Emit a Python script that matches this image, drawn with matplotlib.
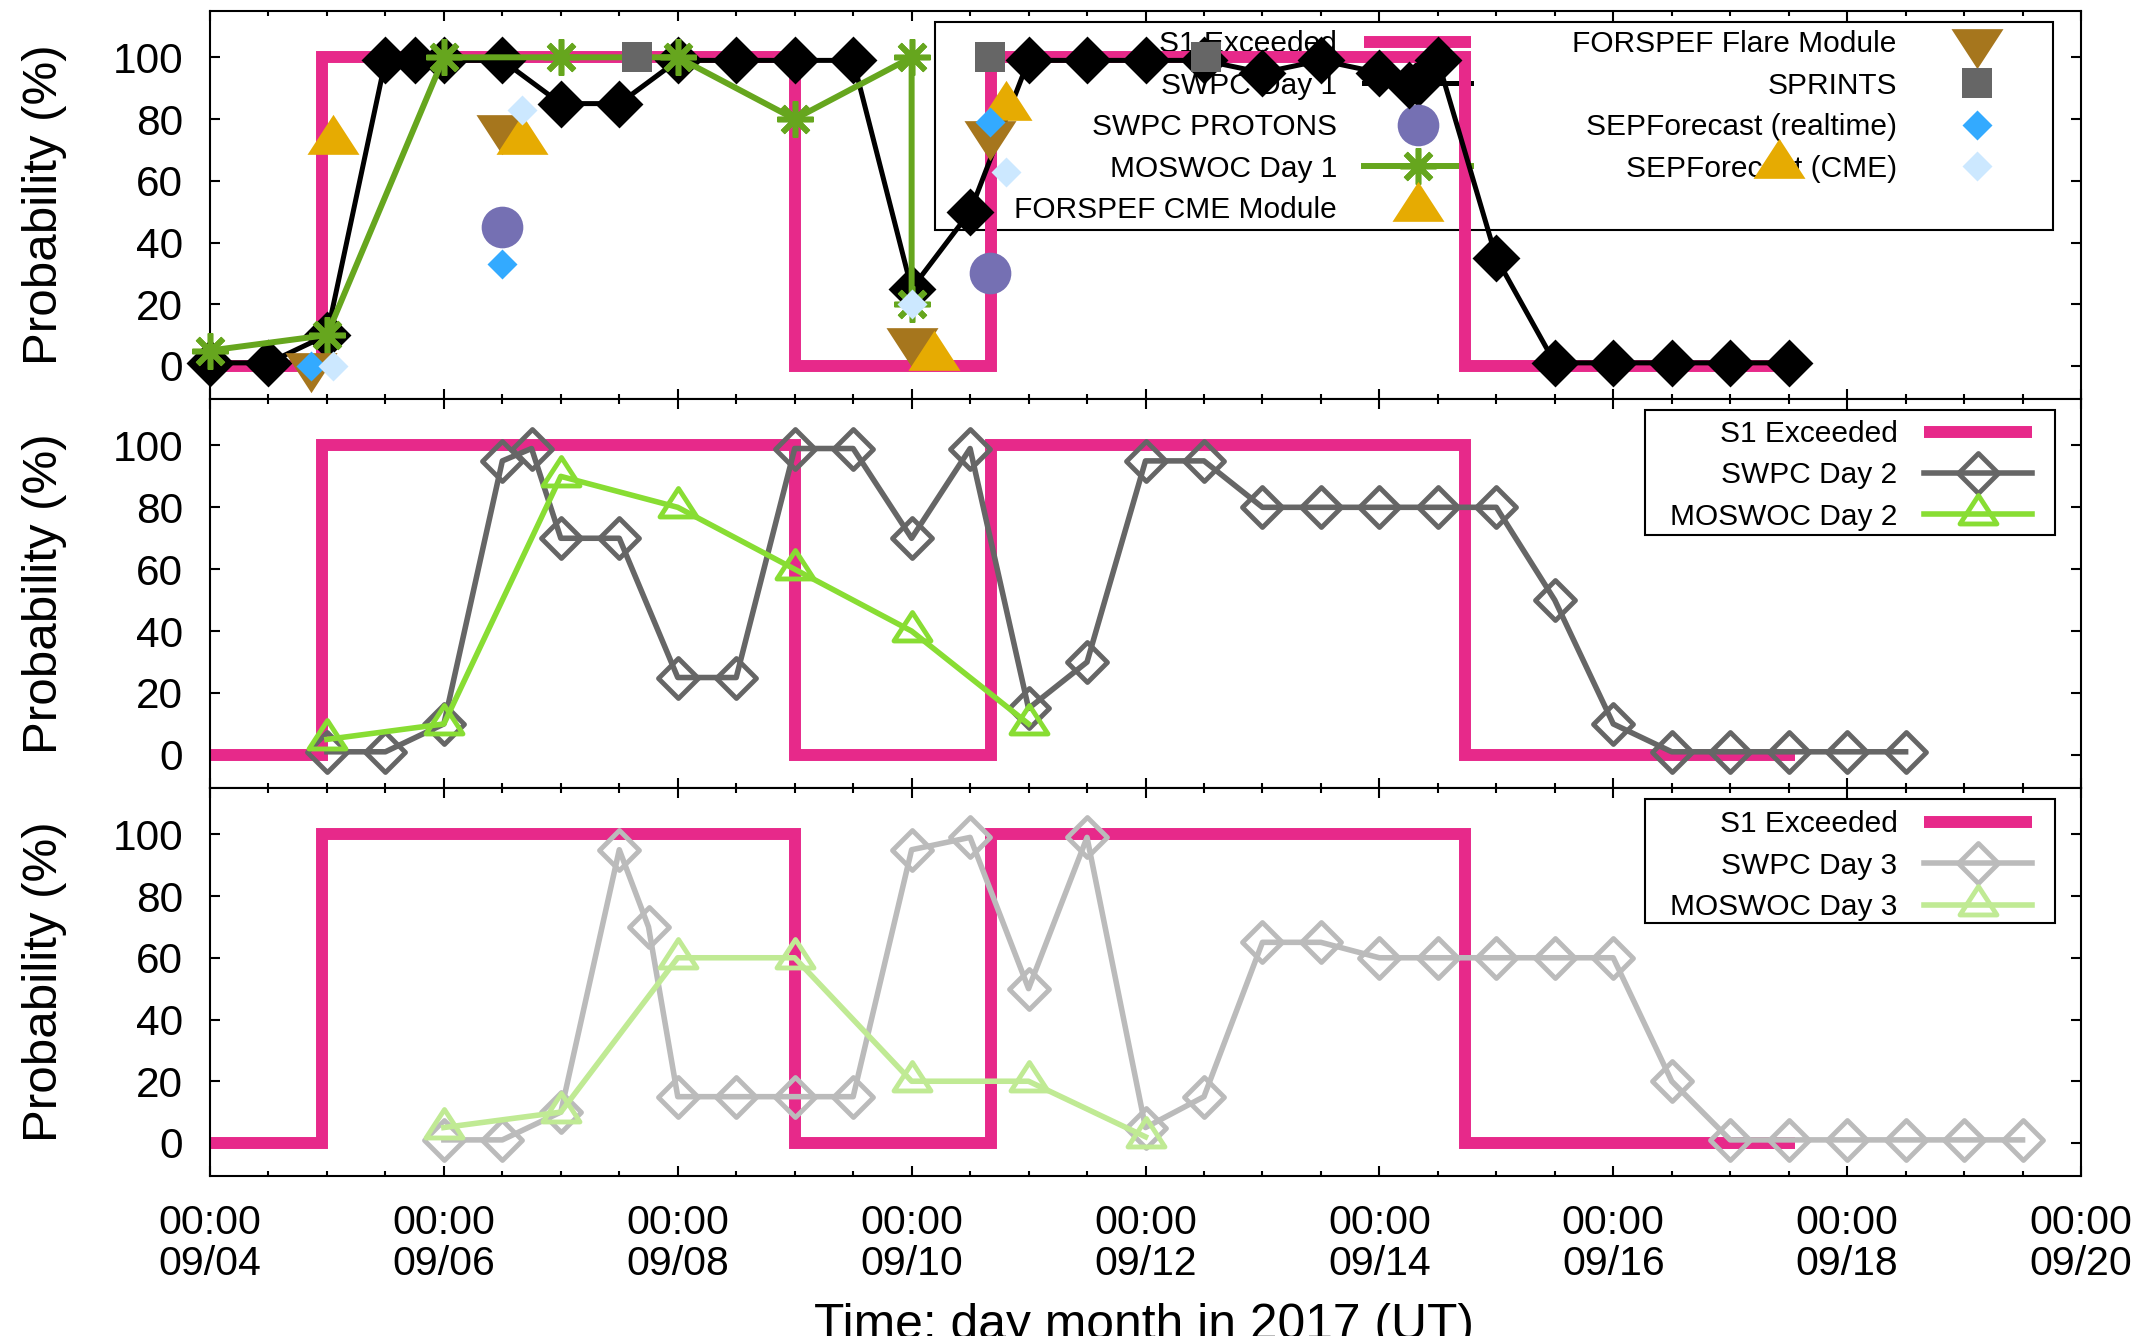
import numpy as np
import matplotlib
matplotlib.use('Agg')
import matplotlib.pyplot as plt
from matplotlib.path import Path
from matplotlib.patches import Rectangle

plt.rcParams['font.family'] = ['Liberation Sans', 'DejaVu Sans']

# time axis: days since 2017-09-04 00:00 UT
# S1 exceeded (step)
s1_t = [0, 0.96, 5.0, 6.68, 10.73, 13.55]
s1_v = [0, 100, 0, 100, 0, 0]

# panel 1
swpc1_t = [0, 0.5, 1.0, 1.5, 1.75, 2.0, 2.5, 3.0, 3.5, 4.0, 4.5, 5.0, 5.5, 6.0, 6.5,
           7.0, 7.5, 8.0, 8.5, 9.0, 9.5, 10.0, 10.25, 10.5, 11.0, 11.5, 12.0, 12.5, 13.0, 13.5]
swpc1_v = [1, 1, 10, 99, 99, 99, 99, 85, 85, 99, 99, 99, 99, 25, 50,
           99, 99, 99, 99, 95, 99, 95, 91, 99, 35, 1, 1, 1, 1, 1]
moswoc1_t = [0, 1, 2, 3, 4, 5, 6, 6]
moswoc1_v = [5, 10, 100, 100, 100, 80, 100, 20]
protons_t = [2.5, 6.67]
protons_v = [45, 30]
flare_t = [0.86, 2.5, 6.0, 6.67]
flare_v = [0, 77, 8, 75]
cme_t = [1.05, 2.67, 6.19, 6.81, 13.42]
cme_v = [73, 73, 3, 84, 65]
sprints_t = [3.65, 6.67, 8.52]
sprints_v = [100, 100, 100]
sepf_rt_t = [0.86, 2.5, 6.67]
sepf_rt_v = [0, 33, 79]
sepf_cme_t = [1.05, 2.67, 6.0, 6.81]
sepf_cme_v = [0, 83, 20, 63]

# panel 2
swpc2_t = [1.0, 1.5, 2.0, 2.5, 2.75, 3.0, 3.5, 4.0, 4.5, 5.0, 5.5, 6.0, 6.5, 7.0, 7.5,
           8.0, 8.5, 9.0, 9.5, 10.0, 10.5, 11.0, 11.5, 12.0, 12.5, 13.0, 13.5, 14.0, 14.5]
swpc2_v = [1, 1, 10, 95, 99, 70, 70, 25, 25, 99, 99, 70, 99, 15, 30,
           95, 95, 80, 80, 80, 80, 80, 50, 10, 1, 1, 1, 1, 1]
moswoc2_t = [1, 2, 3, 4, 5, 6, 7]
moswoc2_v = [5, 10, 90, 80, 60, 40, 10]

# panel 3
swpc3_t = [2.0, 2.5, 3.0, 3.5, 3.75, 4.0, 4.5, 5.0, 5.5, 6.0, 6.5, 7.0, 7.5, 8.0, 8.5,
           9.0, 9.5, 10.0, 10.5, 11.0, 11.5, 12.0, 12.5, 13.0, 13.5, 14.0, 14.5, 15.0, 15.5]
swpc3_v = [1, 1, 10, 95, 70, 15, 15, 15, 15, 95, 99, 50, 99, 5, 15,
           65, 65, 60, 60, 60, 60, 60, 20, 1, 1, 1, 1, 1, 1]
moswoc3_t = [2, 3, 4, 5, 6, 7, 8]
moswoc3_v = [5, 10, 60, 60, 20, 20, 2]

xtick_days = list(range(0, 17, 2))
xtick_labels = ['00:00\n09/%02d' % (4 + d) for d in xtick_days]

PINK = '#e7298a'

def closed(verts):
    return Path(verts + [verts[0]], closed=True)

diamond = closed([(0, 1), (1, 0), (0, -1), (-1, 0)])
tri_up = closed([(-1, -0.513), (1, -0.513), (0, 1.026)])
tri_dn = closed([(-1, 0.513), (1, 0.513), (0, -1.026)])

fig = plt.figure(figsize=(21.41, 13.36), dpi=100)
L, W = 210 / 2141, 1871 / 2141
ax1 = fig.add_axes([L, 1 - 399 / 1336, W, 388 / 1336])
ax2 = fig.add_axes([L, 1 - 788 / 1336, W, 389 / 1336])
ax3 = fig.add_axes([L, 1 - 1176 / 1336, W, 388 / 1336])

def s1_line(ax):
    return ax.plot(s1_t, s1_v, drawstyle='steps-post', color=PINK, lw=8.6,
                   solid_joinstyle='miter', solid_capstyle='butt', zorder=2,
                   label='S1 Exceeded')[0]

# ---- top panel
h_s1 = s1_line(ax1)
h_swpc1, = ax1.plot(swpc1_t, swpc1_v, color='black', lw=3.6, marker=diamond, ms=34.5,
                    mew=0, zorder=3, clip_on=False, label='SWPC Day 1')
h_mos1, = ax1.plot(moswoc1_t, moswoc1_v, color='#66a61e', lw=4.3, marker=(8, 2, 0), ms=26,
                   mew=4, zorder=4, clip_on=False, label='MOSWOC Day 1')
h_prot, = ax1.plot(protons_t, protons_v, ls='none', marker='o', ms=30, mew=0,
                   color='#7570b3', zorder=5, clip_on=False, label='SWPC PROTONS')
h_flare, = ax1.plot(flare_t, flare_v, ls='none', marker=tri_dn, ms=38.4, mew=0,
                    color='#a6761d', zorder=5, clip_on=False, label='FORSPEF Flare Module')
h_cme, = ax1.plot(cme_t, cme_v, ls='none', marker=tri_up, ms=38.4, mew=0,
                  color='#e6ab02', zorder=5, clip_on=False, label='FORSPEF CME Module')
h_spr, = ax1.plot(sprints_t, sprints_v, ls='none', marker='s', ms=21.6, mew=0,
                  color='#666666', zorder=5, clip_on=False, label='SPRINTS')
h_rt, = ax1.plot(sepf_rt_t, sepf_rt_v, ls='none', marker=diamond, ms=21.6, mew=0,
                 color='#33aaff', zorder=5, clip_on=False, label='SEPForecast (realtime)')
h_sc, = ax1.plot(sepf_cme_t, sepf_cme_v, ls='none', marker=diamond, ms=21.6, mew=0,
                 color='#cce8ff', zorder=5, clip_on=False, label='SEPForecast (CME)')

leg_kw = dict(markerfirst=False, frameon=False, fontsize=21.5, handlelength=3.6,
              handletextpad=0.9, columnspacing=3.38, labelspacing=0.45, borderpad=0,
              borderaxespad=0, loc='upper right', numpoints=1)

leg1 = ax1.legend([h_s1, h_swpc1, h_prot, h_mos1, h_cme, h_flare, h_spr, h_rt, h_sc],
                  ['S1 Exceeded', 'SWPC Day 1', 'SWPC PROTONS', 'MOSWOC Day 1',
                   'FORSPEF CME Module', 'FORSPEF Flare Module', 'SPRINTS',
                   'SEPForecast (realtime)', 'SEPForecast (CME)'],
                  ncol=2, bbox_to_anchor=(0.9733, 0.950), **leg_kw)
leg1.set_zorder(1)
ax1.add_patch(Rectangle((0.3875, 0.4356), 0.5975, 0.5361, transform=ax1.transAxes,
                        fill=False, ec='black', lw=1.5, zorder=1))

# ---- middle panel
h_s1b = s1_line(ax2)
h_sw2, = ax2.plot(swpc2_t, swpc2_v, color='#666666', lw=4, marker=diamond, ms=28.8,
                  mfc='none', mew=3.5, zorder=3, clip_on=False, label='SWPC Day 2')
h_mo2, = ax2.plot(moswoc2_t, moswoc2_v, color='#88dd33', lw=4, marker=tri_up, ms=27.3,
                  mfc='none', mew=3.5, zorder=4, clip_on=False, label='MOSWOC Day 2')
leg2 = ax2.legend([h_s1b, h_sw2, h_mo2], ['S1 Exceeded', 'SWPC Day 2', 'MOSWOC Day 2'],
                  bbox_to_anchor=(0.9738, 0.946), **leg_kw)
ax2.add_patch(Rectangle((0.767, 0.650), 0.2191, 0.3217, transform=ax2.transAxes,
                        fill=False, ec='black', lw=1.5, zorder=1))

# ---- bottom panel
h_s1c = s1_line(ax3)
h_sw3, = ax3.plot(swpc3_t, swpc3_v, color='#bbbbbb', lw=4, marker=diamond, ms=28.8,
                  mfc='none', mew=3.5, zorder=3, clip_on=False, label='SWPC Day 3')
h_mo3, = ax3.plot(moswoc3_t, moswoc3_v, color='#c0ea94', lw=4, marker=tri_up, ms=27.3,
                  mfc='none', mew=3.5, zorder=4, clip_on=False, label='MOSWOC Day 3')
leg3 = ax3.legend([h_s1c, h_sw3, h_mo3], ['S1 Exceeded', 'SWPC Day 3', 'MOSWOC Day 3'],
                  bbox_to_anchor=(0.9738, 0.943), **leg_kw)
ax3.add_patch(Rectangle((0.767, 0.652), 0.2191, 0.3196, transform=ax3.transAxes,
                        fill=False, ec='black', lw=1.5, zorder=1))

for ax in (ax1, ax2, ax3):
    ax.set_xlim(0, 16)
    ax.set_ylim(-10.7, 115)
    ax.set_yticks(range(0, 101, 20))
    ax.set_xticks(np.arange(0, 16.01, 0.5), minor=True)
    ax.tick_params(which='both', direction='in', top=True, right=True, width=1.5)
    ax.tick_params(which='major', length=7)
    ax.tick_params(which='minor', length=3.5)
    ax.tick_params(axis='y', labelsize=30.5, pad=19.5)
    ax.tick_params(axis='x', labelsize=29.5, pad=20)
    for sp in ax.spines.values():
        sp.set_linewidth(1.5)
    ax.set_ylabel('Probability (%)', fontsize=35.5)
    ax.yaxis.set_label_coords(-0.0764, 0.5)

ax1.set_xticks(xtick_days, [''] * len(xtick_days))
ax2.set_xticks(xtick_days, [''] * len(xtick_days))
ax3.set_xticks(xtick_days, xtick_labels, linespacing=1.1)

# the axis title sits partly below the bottom edge, as in the original
fig.text(1144 / 2141, -3 / 1336, 'Time: day month in 2017 (UT)', ha='center',
         va='baseline', fontsize=35.8)

fig.savefig('out.png', dpi=100)
